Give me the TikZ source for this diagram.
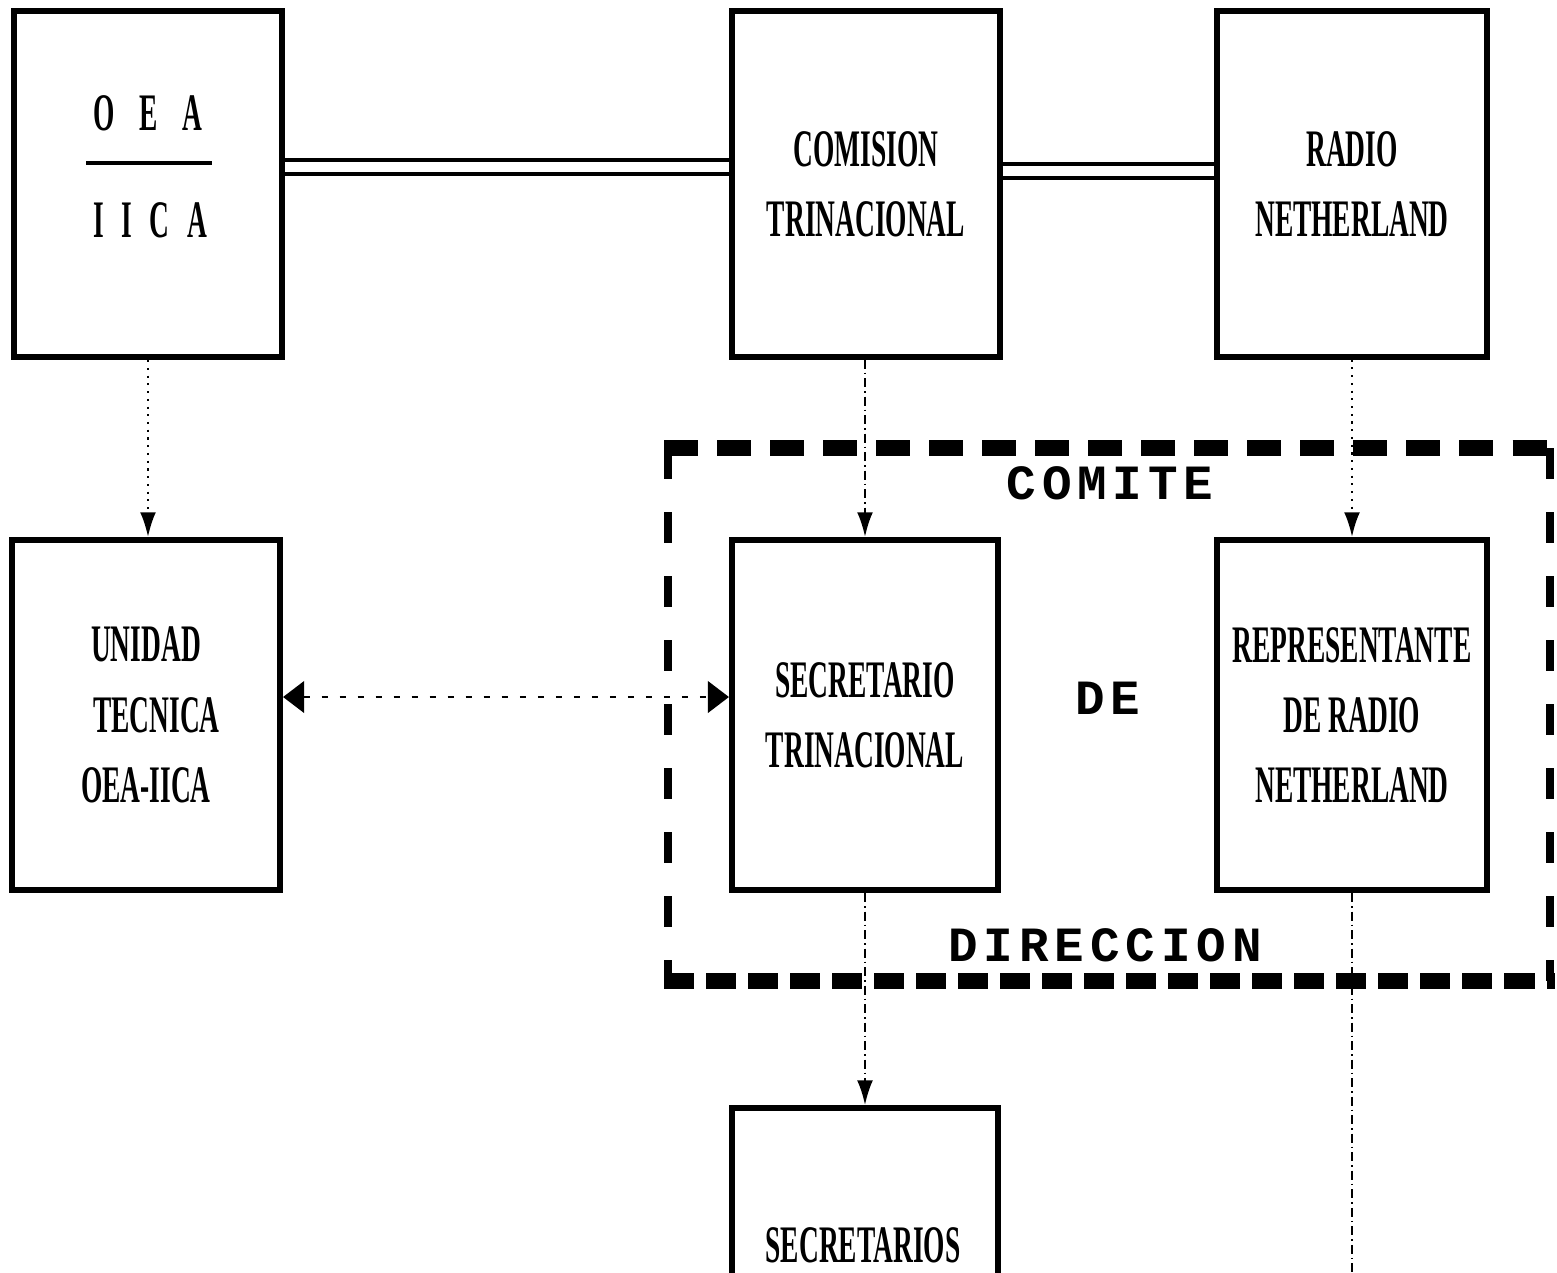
\documentclass[tikz,border=0pt]{standalone}
\usepackage{fontspec}
\usetikzlibrary{arrows.meta,calc}
\newfontfamily\boxfont{Liberation Serif}[FakeStretch=0.52]
\newfontfamily\labfont{Liberation Mono}[LetterSpace=12]
\begin{document}
\begin{tikzpicture}[x=0.01cm,y=-0.01cm,
  box/.style={draw, line width=1.7pt, inner sep=0pt, align=center,
    font=\boxfont\bfseries\fontsize{15}{20}\selectfont},
  txt/.style={inner sep=0pt, align=center, font=\boxfont\bfseries\fontsize{15}{20}\selectfont},
  lab/.style={inner sep=0pt, font=\labfont\bfseries\fontsize{14}{14}\selectfont},
  dbl/.style={double, double distance=0.1cm, line width=1.2pt},
  conn/.style={line width=0.6pt},
  dotl/.style={conn, dash pattern=on 0.6pt off 1.6pt},
  dashdotl/.style={conn, dash pattern=on 0.09cm off 0.04cm on 0.015cm off 0.04cm},
  dashl/.style={conn, dash pattern=on 0.06cm off 0.12cm},
  arr/.style={-{Latex[length=7pt,width=4.5pt]}},
  darr/.style={{Triangle[length=6pt,width=9pt]}-{Triangle[length=6pt,width=9pt]}},
  frameh/.style={line width=4.4pt},
  framev/.style={line width=2.3pt, dash pattern=on 0.31cm off 0.33cm}
]
\useasboundingbox (0,0) rectangle (1557,1272);
\clip (0,0) rectangle (1557,1272);
\fill[white] (0,0) rectangle (1557,1272);

% top row
\node[box, minimum width=2.68cm, minimum height=3.46cm] (oea) at (148,184) {};
\node[txt] (oeatxt) at (148,113) {O\hspace{7pt}E\hspace{7pt}A};
\node[txt] (iicatxt) at (150,220) {I\hspace{5pt}I\hspace{5pt}C\hspace{5pt}A};
\coordinate (barl) at (86,163);
\coordinate (barr) at (212,163);
\draw[line width=0.9pt] (barl) -- (barr);

\node[box, minimum width=2.67cm, minimum height=3.45cm] (com) at (866,184) {COMISION\\TRINACIONAL};
\node[box, minimum width=2.69cm, minimum height=3.45cm] (rad) at (1352,184) {RADIO\\NETHERLAND};

% middle row
\node[box, minimum width=2.68cm, minimum height=3.50cm] (uni) at (146,715) {UNIDAD\hspace{6pt}\\\hspace{6pt}TECNICA\\OEA-IICA\hspace{6pt}};
\node[box, minimum width=2.66cm, minimum height=3.50cm] (sec) at (865,715) {SECRETARIO\hspace{6pt}\\TRINACIONAL};
\node[box, minimum width=2.69cm, minimum height=3.50cm] (rep) at (1352,715) {REPRESENTANTE\\DE RADIO\hspace{6pt}\\NETHERLAND};

% bottom
\node[box, minimum width=2.66cm, minimum height=2.3cm, anchor=north] (secs) at (865,1105) {};
\node[txt] (secstxt) at (863,1245) {SECRETARIOS};

% comite frame
\coordinate (fTL) at (664,448);
\coordinate (fTR) at (1555,448);
\coordinate (fBL) at (664,981);
\coordinate (fBR) at (1555,981);
\draw[frameh, dash pattern=on 0.34cm off 0.19cm] (fTL) -- (fTR);
\draw[frameh, dash pattern=on 0.30cm off 0.12cm] (fBL) -- (fBR);
\draw[framev] ([xshift=0.04cm]fTL) -- ([xshift=0.04cm]fBL);
\draw[framev] ([xshift=-0.05cm]fTR) -- ([xshift=-0.05cm]fBR);
\node[lab] (comite) at (1110,483) {COMITE};
\node[lab] (de) at (1108,698) {DE};
\node[lab] (direccion) at (1105,945) {DIRECCION};

% double lines
\coordinate (dl1) at (500,167);
\coordinate (dl2) at (1100,171);
\draw[dbl] (oea.east |- dl1) -- (com.west |- dl1);
\draw[dbl] (com.east |- dl2) -- (rad.west |- dl2);

% connectors
\draw[dotl, arr] (oea.south) -- (oea.south |- uni.north);
\draw[dashdotl, arr] (sec.north |- com.south) -- (sec.north);
\draw[dotl, arr] (rep.north |- rad.south) -- (rep.north);
\draw[dashl, darr] ($(uni.east)+(0,-18)$) -- ($(sec.west)+(0,-18)$);
\draw[dashdotl, arr] (sec.south) -- (secs.north);
\coordinate (repend) at (1352,1272);
\draw[dashdotl] (rep.south) -- (repend);
\end{tikzpicture}
\end{document}
